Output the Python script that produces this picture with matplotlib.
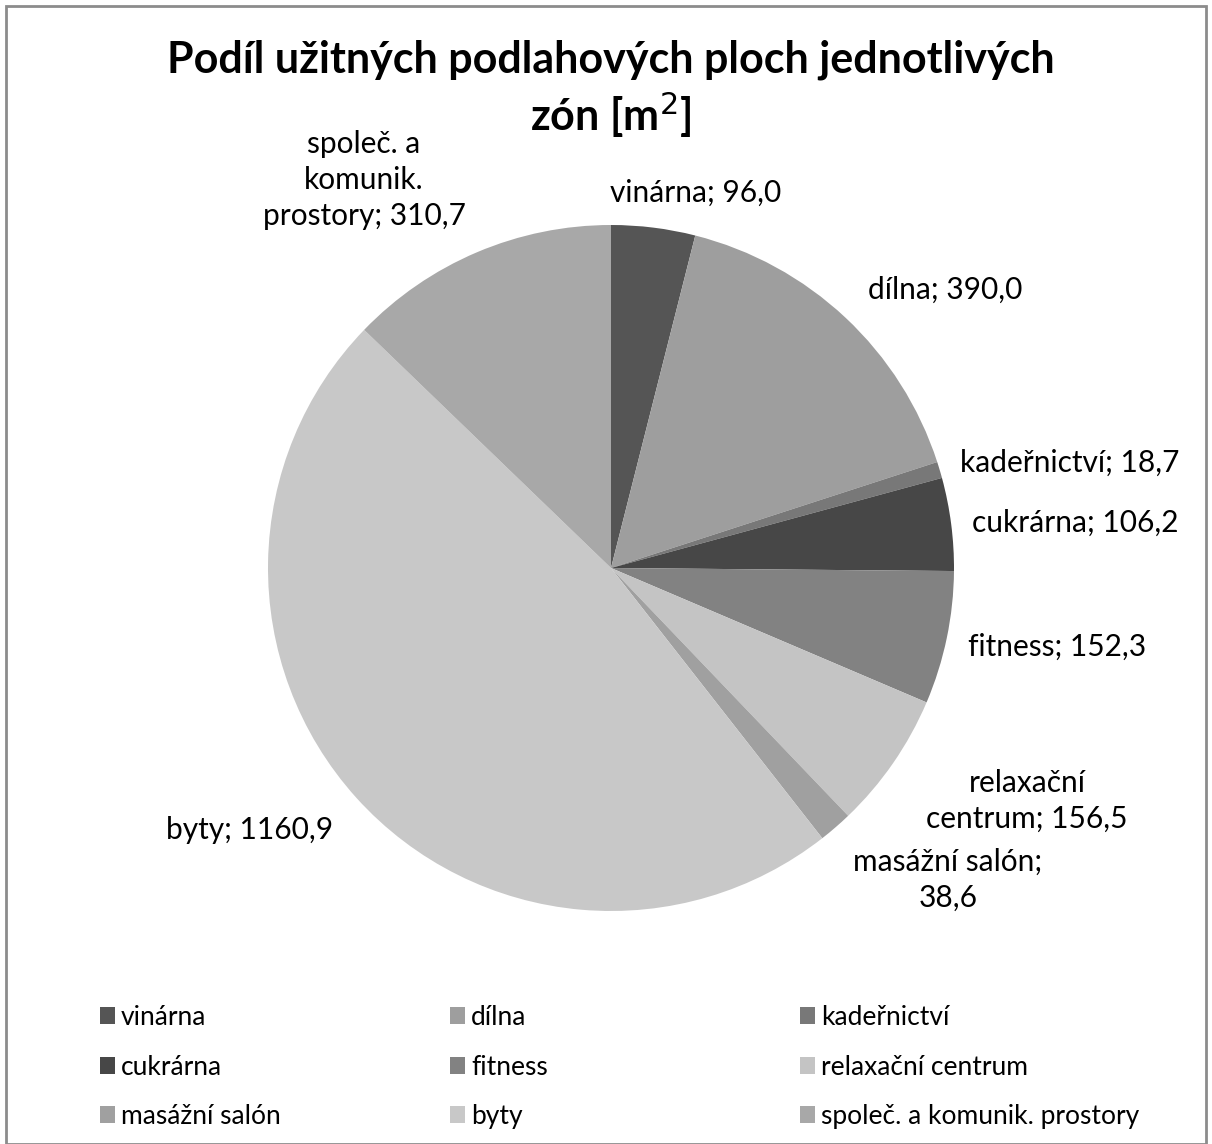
import matplotlib.pyplot as plt
from matplotlib.patches import Rectangle, Patch

# data
zones = ['vinárna', 'dílna', 'kadeřnictví', 'cukrárna', 'fitness',
         'relaxační centrum', 'masážní salón', 'byty', 'společ. a komunik. prostory']
areas = [96.0, 390.0, 18.7, 106.2, 152.3, 156.5, 38.6, 1160.9, 310.7]
colors = ['#555555', '#9e9e9e', '#787878', '#474747', '#828282',
          '#c4c4c4', '#a0a0a0', '#c8c8c8', '#a8a8a8']
# label text as shown next to slices (line breaks as in the original)
label_text = ['vinárna; 96,0', 'dílna; 390,0', 'kadeřnictví; 18,7', 'cukrárna; 106,2',
              'fitness; 152,3', 'relaxační\ncentrum; 156,5', 'masážní salón;\n38,6',
              'byty; 1160,9', 'společ. a\nkomunik.\nprostory; 310,7']
# label centres in pixels
label_px = [(696, 193), (945, 290), (1070, 463), (1075, 523), (1057, 647),
            (1027, 801), (948, 880), (250, 830), (364, 180)]

W, H = 1212, 1144
plt.rcParams['font.family'] = ['Lato', 'DejaVu Sans']
fig = plt.figure(figsize=(W / 100, H / 100), dpi=100)

# outer border
fig.patches.append(Rectangle((6 / W, 0), 1 - 12 / W, 1 - 6 / H, transform=fig.transFigure,
                             fill=False, edgecolor='#8c8c8c', linewidth=2))

cx, cy, r = 611, 568, 343
ax = fig.add_axes([(cx - r) / W, (H - cy - r) / H, 2 * r / W, 2 * r / H])
ax.pie(areas, colors=colors, startangle=90, counterclock=False, radius=1,
       wedgeprops=dict(linewidth=0))
ax.set_xlim(-1, 1)
ax.set_ylim(-1, 1)
ax.set_aspect('equal')
ax.axis('off')

for txt, (px, py) in zip(label_text, label_px):
    fig.text(px / W, 1 - py / H, txt, ha='center', va='center', fontsize=21.5,
             linespacing=1.33, color='black')

fig.text(611 / W, 1 - 90 / H, 'Podíl užitných podlahových ploch jednotlivých\nzón [m$^2$]',
         ha='center', va='center', fontsize=31, fontweight='bold', linespacing=1.25)

# legend: three columns, filled row by row like the original
handles = [Patch(facecolor=c, edgecolor='none') for c in colors]
col_x = [100, 450, 800]
for c, x in enumerate(col_x):
    idx = [c, c + 3, c + 6]
    fig.legend([handles[i] for i in idx], [zones[i] for i in idx],
               loc='upper left', bbox_to_anchor=(x / W, 1 - 1005 / H), frameon=False,
               fontsize=19, handlelength=0.55, handleheight=0.6, handletextpad=0.25,
               labelspacing=0.93, borderpad=0, borderaxespad=0)

fig.savefig('out.png', dpi=100)
